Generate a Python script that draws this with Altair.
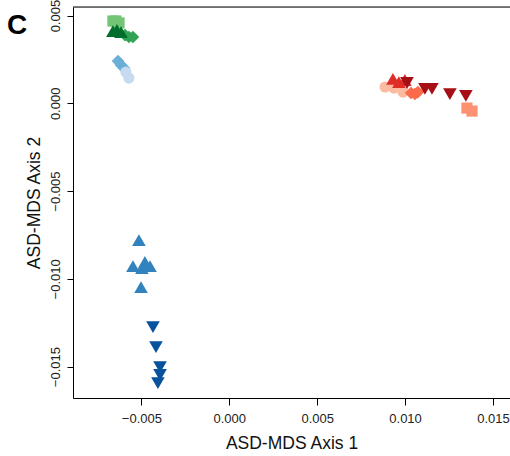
import altair as alt
import pandas as pd

# group definitions (draw order = list order)
groups = ["g_sq", "g_di", "g_tu", "b_di", "b_ci", "b_tu", "b_td",
          "r_ci", "r_sq", "r_tu", "r_di", "r_td"]
colors = ["#74c476", "#31a354", "#006d2c", "#6baed6", "#c6dbef", "#3182bd", "#08519c",
          "#fcbba1", "#fc9272", "#de2d26", "#fb6a4a", "#a50f15"]
shapes = ["square", "diamond", "triangle-up", "diamond", "circle", "triangle-up", "triangle-down",
          "circle", "square", "triangle-up", "diamond", "triangle-down"]
sizes = [125, 160, 185, 160, 125, 185, 185, 125, 125, 185, 160, 185]

axis1 = {
    "g_sq": [-0.00662, -0.00645, -0.00627],
    "g_di": [-0.00593, -0.00571, -0.00548],
    "g_tu": [-0.00662, -0.00639, -0.00616],
    "b_di": [-0.00633, -0.00616, -0.00599],
    "b_ci": [-0.00588, -0.00571],
    "b_tu": [-0.00514, -0.00548, -0.00480, -0.00497, -0.00451, -0.00502],
    "b_td": [-0.00434, -0.00417, -0.00394, -0.00394, -0.00406],
    "r_ci": [0.00886, 0.00937, 0.00988],
    "r_sq": [0.01352, 0.01381],
    "r_tu": [0.00931, 0.00999, 0.00965],
    "r_di": [0.01034, 0.01056, 0.01073],
    "r_td": [0.01011, 0.01113, 0.01153, 0.01255, 0.01346],
}
axis2 = {
    "g_sq": [0.00469, 0.00469, 0.00458],
    "g_di": [0.00389, 0.00378, 0.00378],
    "g_tu": [0.00412, 0.00418, 0.00406],
    "b_di": [0.00241, 0.00218, 0.00201],
    "b_ci": [0.00178, 0.00144],
    "b_tu": [-0.00779, -0.00927, -0.00904, -0.00939, -0.00927, -0.01047],
    "b_td": [-0.01275, -0.01389, -0.01503, -0.01548, -0.01594],
    "r_ci": [0.00093, 0.00087, 0.00064],
    "r_sq": [-0.00027, -0.00044],
    "r_tu": [0.00139, 0.00133, 0.00121],
    "r_di": [0.00059, 0.00053, 0.00064],
    "r_td": [0.00116, 0.00082, 0.00082, 0.00053, 0.00042],
}

x_dom = [-0.00889, 0.01597]
y_dom = [-0.01679, 0.00549]
x_ticks = [-0.005, 0.0, 0.005, 0.010, 0.015]
y_ticks = [-0.015, -0.010, -0.005, 0.0, 0.005]

rows = []
k = 0
for gi, g in enumerate(groups):
    for a, b in zip(axis1[g], axis2[g]):
        rows.append({"grp": g, "a1": a, "a2": b, "sz": sizes[gi], "ord": k})
        k += 1
df = pd.DataFrame(rows)

FONT = "Liberation Sans"

xenc = alt.X("a1:Q", scale=alt.Scale(domain=x_dom, nice=False, zero=False),
             axis=alt.Axis(values=x_ticks, format=".3f", title="ASD-MDS Axis 1",
                           grid=False, tickSize=7, labelPadding=7, titlePadding=9,
                           domainColor="black", tickColor="black", labelColor="#222",
                           labelFont=FONT, labelFontSize=13, titleFont=FONT,
                           titleFontSize=17.5, titleFontWeight="normal", titleColor="#111",
                           labelFlush=False))
yenc = alt.Y("a2:Q", scale=alt.Scale(domain=y_dom, nice=False, zero=False),
             axis=alt.Axis(values=y_ticks, format=".3f", title="ASD-MDS Axis 2",
                           grid=False, tickSize=6, labelPadding=5, titlePadding=6,
                           labelAngle=270, labelAlign="center", labelBaseline="bottom",
                           domainColor="black", tickColor="black", labelColor="#222",
                           labelFont=FONT, labelFontSize=13, titleFont=FONT,
                           titleFontSize=17.5, titleFontWeight="normal", titleColor="#111",
                           labelFlush=False))

points = alt.Chart(df).mark_point(filled=True, opacity=1, strokeWidth=0).encode(
    x=xenc,
    y=yenc,
    color=alt.Color("grp:N", scale=alt.Scale(domain=groups, range=colors), legend=None),
    shape=alt.Shape("grp:N", scale=alt.Scale(domain=groups, range=shapes), legend=None),
    size=alt.Size("sz:Q", scale=None, legend=None),
    order=alt.Order("ord:Q"),
)

top_rule = alt.Chart(pd.DataFrame({"t": [y_dom[1]]})).mark_rule(color="black", strokeWidth=1).encode(
    y=alt.Y("t:Q")
)

panel = alt.Chart(pd.DataFrame({"lab": ["C"]})).mark_text(
    font=FONT, fontSize=28, fontWeight="bold", color="black", align="center", baseline="alphabetic"
).encode(text="lab:N", x=alt.value(-56), y=alt.value(27))

chart = alt.layer(top_rule, points, panel).properties(
    width=437, height=391,
    autosize=alt.AutoSizeParams(type="none"),
    padding={"left": 73, "top": 7, "right": 0, "bottom": 58},
).configure_view(stroke=None).configure(background="white")

chart.save("out.html", embed_options={"renderer": "svg", "actions": False})
